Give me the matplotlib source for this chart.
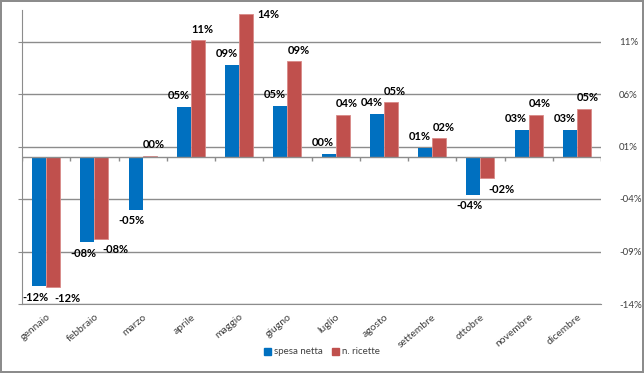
import numpy as np
import matplotlib
matplotlib.use('Agg')
from matplotlib import pyplot as plt
from matplotlib.patches import Patch

mesi = ['gennaio', 'febbraio', 'marzo', 'aprile', 'maggio', 'giugno',
        'luglio', 'agosto', 'settembre', 'ottobre', 'novembre', 'dicembre']
spesa_netta = [-0.123, -0.081, -0.050, 0.048, 0.088, 0.049,
               0.003, 0.041, 0.009, -0.036, 0.026, 0.026]
n_ricette = [-0.124, -0.078, 0.001, 0.111, 0.136, 0.091,
             0.040, 0.052, 0.018, -0.020, 0.040, 0.046]
yticks = [-0.14, -0.09, -0.04, 0.01, 0.06, 0.11]

blu = '#0070C0'
rosso = '#C0504D'
plt.rcParams['font.family'] = ['Lato', 'DejaVu Sans']

def pct(v):
    s = '-' if round(v * 100) < 0 else ''
    return s + '%02d%%' % abs(round(v * 100))

fig = plt.figure(figsize=(6.44, 3.73), dpi=100)
fig.patch.set_edgecolor('#8c8c8c')
fig.patch.set_linewidth(1.5)
ax = fig.add_axes([22/644, 1 - 304/373, 579/644, 294/373])

x = np.arange(len(mesi))
w = 0.29
b1 = ax.bar(x - w/2, spesa_netta, w, color=blu, zorder=3)
b2 = ax.bar(x + w/2, n_ricette, w, color=rosso, edgecolor='#d98a88', linewidth=0.6, zorder=3)

ax.set_xlim(-0.5, len(mesi) - 0.5)
ax.set_ylim(-0.14, 0.14)
ax.set_yticks(yticks)
ax.set_yticklabels([pct(v) for v in yticks])
ax.yaxis.grid(True, color='#8c8c8c', linewidth=1)
ax.set_axisbelow(True)
ax.tick_params(axis='y', left=True, right=False, labelleft=False, labelright=True,
               length=3, color='#8c8c8c', labelsize=7, labelcolor='#404040', pad=10)
ax.set_xticks(x)
ax.set_xticklabels(mesi, rotation=40, ha='right', rotation_mode='anchor', fontsize=7.5, color='#404040')
ax.tick_params(axis='x', length=0, pad=6)
for s in ['top', 'right']:
    ax.spines[s].set_visible(False)
for s in ['left', 'bottom']:
    ax.spines[s].set_color('#8c8c8c')

# asse delle categorie sullo zero
ax.axhline(0, color='#8c8c8c', linewidth=1, zorder=4)
ax.vlines(np.arange(len(mesi) + 1) - 0.5, -0.004, 0, color='#8c8c8c', linewidth=1, zorder=4)

for bars, vals, serie in [(b1, spesa_netta, 0), (b2, n_ricette, 1)]:
    for r, v in zip(bars, vals):
        cx = r.get_x() + r.get_width() / 2
        if v > 0.12:
            ax.annotate(pct(v), (r.get_x() + r.get_width(), v), xytext=(3, 0),
                        textcoords='offset points', ha='left', va='center',
                        fontsize=8, fontweight='bold', annotation_clip=False)
        elif v >= 0:
            dx = -4 if serie == 0 else 3
            ax.annotate(pct(v), (cx, v), xytext=(dx, 4), textcoords='offset points',
                        ha='center', va='bottom', fontsize=8, fontweight='bold')
        else:
            dx = -3 if serie == 0 else 10
            ax.annotate(pct(v), (cx, v), xytext=(dx, -4), textcoords='offset points',
                        ha='center', va='top', fontsize=8, fontweight='bold')

handles = [Patch(color=blu, label='spesa netta'), Patch(color=rosso, label='n. ricette')]
fig.legend(handles=handles, loc='center', bbox_to_anchor=(322/644, 1 - 352/373), ncol=2,
           frameon=False, fontsize=7, handlelength=0.7, handleheight=0.7,
           handletextpad=0.3, columnspacing=1.0, labelcolor='#404040')

fig.savefig('out.png', dpi=100, edgecolor=fig.get_edgecolor())
